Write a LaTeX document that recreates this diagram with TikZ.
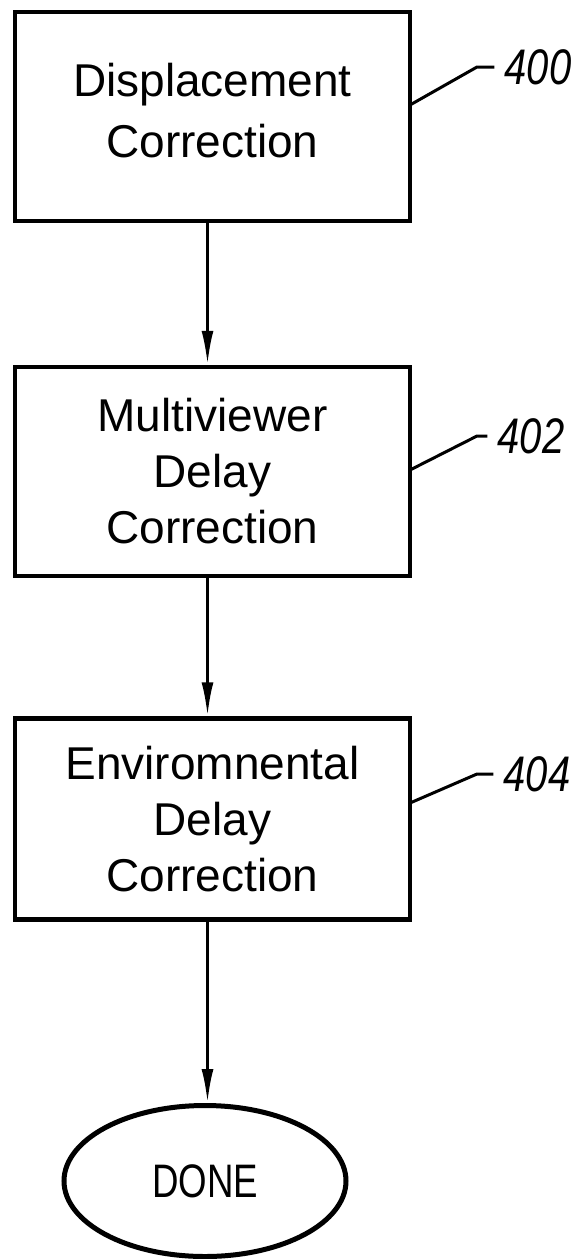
\documentclass[tikz,border=0pt]{standalone}
\usepackage{fontspec}
\setmainfont{Liberation Sans}
\newfontfamily\labfont[FakeStretch=0.8]{Liberation Sans}
\newfontfamily\donefont[FakeStretch=0.78]{Liberation Sans}
\usetikzlibrary{arrows.meta,shapes.geometric}
\tikzset{
  stepbox/.style={draw, line width=4.5pt, minimum width=395pt, inner sep=0pt,
    align=center, font=\fontsize{46}{56}\selectfont},
  flow/.style={line width=3pt, -{Latex[length=34pt,width=12pt]}},
  leader/.style={line width=3pt},
  reflab/.style={inner xsep=10pt, inner ysep=0pt, font=\fontsize{50}{54}\selectfont\labfont\itshape},
  endnode/.style={draw, ellipse, line width=5pt, minimum width=282pt, minimum height=151pt,
    inner sep=0pt, font=\fontsize{47}{50}\selectfont\donefont},
}
\begin{document}
\begin{tikzpicture}[x=1pt,y=-1pt]
\useasboundingbox (0,0) rectangle (578,1259);
\node[stepbox, minimum height=209pt, font=\fontsize{46}{61}\selectfont] (b1) at (212.5,116.5) {Displacement\\Correction\rule[-12pt]{0pt}{12pt}};
\node[stepbox, minimum height=209pt] (b2) at (212.5,471.5) {Multiviewer\\Delay\\Correction};
\node[stepbox, minimum height=201pt] (b3) at (212.5,819) {Enviromnental\\Delay\\Correction};
\node[endnode] (done) at (205,1181) {DONE};

\draw[flow] ([xshift=-5pt]b1.south) -- ([xshift=-5pt]b2.north);
\draw[flow] ([xshift=-5pt]b2.south) -- ([xshift=-5pt]b3.north);
\draw[flow] ([xshift=-5pt]b3.south) -- ([xshift=2.5pt]done.north);

\node[reflab] (r400) at (538,67) {400};
\node[reflab] (r402) at (531,436) {402};
\node[reflab] (r404) at (537,774) {404};

\coordinate (s400) at (410,105);
\coordinate (k400) at (477,67);
\coordinate (s402) at (410,470);
\coordinate (k402) at (477,436);
\coordinate (s404) at (410,803);
\coordinate (k404) at (477,774);
\draw[leader] (s400) -- (k400) -- (r400.west);
\draw[leader] (s402) -- (k402) -- (r402.west);
\draw[leader] (s404) -- (k404) -- (r404.west);
\end{tikzpicture}
\end{document}
